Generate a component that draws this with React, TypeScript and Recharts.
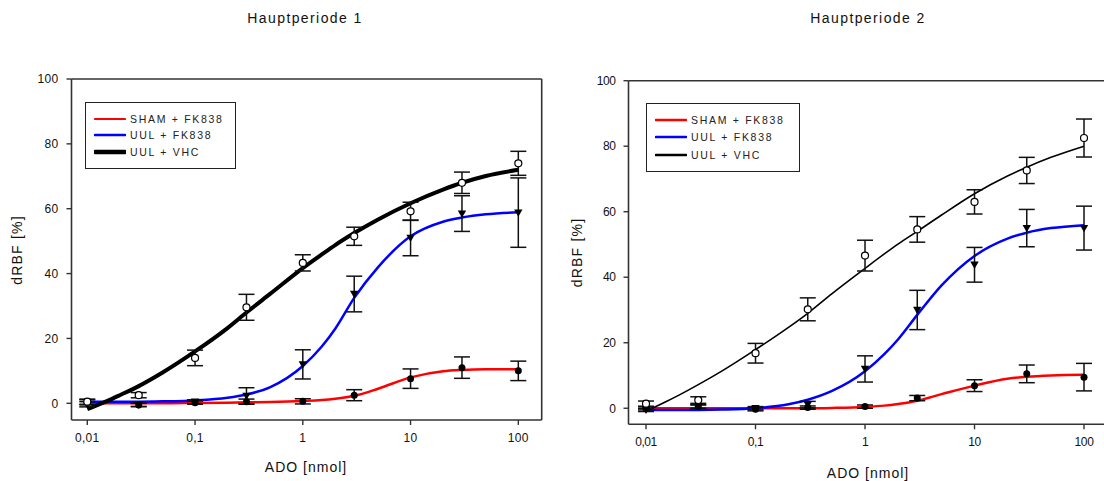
import React from 'react';
import { ComposedChart, Line, Scatter, ErrorBar, XAxis, YAxis, ReferenceLine } from 'recharts';

// ---------- data ----------
const doses = [0.01, 0.03, 0.1, 0.3, 1, 3, 10, 30, 100];
const xTicks = [0.01, 0.1, 1, 10, 100];
const yTicks = [0, 20, 40, 60, 80, 100];
const seriesNames = ['SHAM + FK838', 'UUL + FK838', 'UUL + VHC'];
const titles = ['Hauptperiode 1', 'Hauptperiode 2'];

// Panel 1 measured points
const sham1 = [0.3, -0.5, 0.2, 0.5, 0.6, 2.5, 7.6, 11, 10];
const sham1Err = [0.8, 0.5, 0.5, 0.8, 0.8, 1.7, 3, 3.3, 3];
const fk1 = [-0.3, -0.5, 0.5, 2.3, 12, 33.7, 51, 58.5, 58.8];
const fk1Err = [0.8, 0.5, 0.6, 2.5, 4.5, 5.5, 5.5, 5.5, 10.7];
const vhc1 = [0.5, 2.5, 14, 29.6, 43.3, 51.5, 59.2, 68, 74];
const vhc1Err = [0.8, 0.8, 2.4, 4, 2.5, 2.8, 2.8, 3.3, 3.7];

// Panel 2 measured points
const sham2 = [0, 0.5, -0.3, 0.2, 0.5, 3.1, 6.9, 10.5, 9.5];
const sham2Err = [0.5, 0.5, 0.5, 0.5, 0.5, 0.8, 1.8, 2.7, 4.2];
const fk2 = [-0.5, 0.5, 0, 1.1, 12, 30, 43.8, 55, 55];
const fk2Err = [0.5, 0.6, 0.5, 1, 4, 6, 5.3, 5.7, 6.7];
const vhc2 = [1.4, 2.5, 16.8, 30.2, 46.6, 54.6, 63, 72.6, 82.5];
const vhc2Err = [0.8, 1, 3, 3.5, 4.7, 3.9, 3.7, 4, 5.8];

// fitted curves
const curveX = [0.01, 0.015, 0.02, 0.03, 0.05, 0.1, 0.2, 0.3, 0.5, 1, 1.5, 2, 3, 5, 10, 20, 30, 50, 100];
const fitVhc1 = [-1.8, 0.6, 2.5, 5.3, 9.5, 16, 23.2, 28, 33.8, 41.7, 45.9, 48.8, 52.5, 56.7, 61.7, 65.9, 68, 70.1, 72];
const fitFk1 = [0.5, 0.5, 0.5, 0.5, 0.6, 0.9, 1.7, 2.7, 5, 11.5, 17.5, 23, 32.5, 42, 51.5, 56, 57.3, 58.3, 58.9];
const fitSham1 = [0, 0, 0, 0, 0, 0.1, 0.2, 0.3, 0.4, 0.7, 1.0, 1.4, 2.3, 4.5, 8, 9.9, 10.3, 10.5, 10.5];
const fitVhc2 = [-0.9, 1.9, 4.0, 7.2, 11.5, 17.9, 24.7, 29, 35, 42.7, 47.1, 50.1, 54, 59, 65.5, 70.9, 73.6, 76.6, 80];
const fitFk2 = [-0.5, -0.5, -0.5, -0.5, -0.4, 0, 1.2, 2.6, 5.3, 11.3, 16.5, 21, 28.5, 37.5, 46.5, 51.8, 53.6, 55, 55.9];
const fitSham2 = [0, 0, 0, 0, 0, 0, 0, 0, 0.1, 0.4, 0.8, 1.3, 2.3, 4.3, 6.9, 9, 9.6, 10, 10.2];

// ---------- helpers ----------
const curve = (ys: number[]) => curveX.map((x, i) => ({ x, y: ys[i] }));
const pts = (ys: number[], errs: number[]) => doses.map((x, i) => ({ x, y: ys[i], err: errs[i] }));

const FONT = '"Liberation Sans", Arial, sans-serif';
const AXIS = '#333';

const FilledCircle = (p: any) => <circle cx={p.cx} cy={p.cy} r={3.5} fill="#000" />;
const OpenCircle = (p: any) => <circle cx={p.cx} cy={p.cy} r={3.5} fill="#fff" stroke="#000" strokeWidth={1.2} />;
const TriDown = (p: any) => (
  <polygon points={`${p.cx - 4.2},${p.cy - 3.2} ${p.cx + 4.2},${p.cy - 3.2} ${p.cx},${p.cy + 4.2}`} fill="#000" />
);

type PanelProps = {
  left: number;
  width: number;
  margin: { top: number; left: number; right: number; bottom: number };
  xDomain: [number, number];
  yDomain: [number, number];
  sham: any[]; fk: any[]; vhc: any[];
  fSham: any[]; fFk: any[]; fVhc: any[];
  vhcWidth: number;
  xLabelPos: [number, number];
  yLabelPos: [number, number];
  tickSpacing: number;
};

function Panel(p: PanelProps) {
  const tickStyle = { fontSize: 12, fill: '#111', fontFamily: FONT, letterSpacing: p.tickSpacing };
  return (
    <div style={{ position: 'absolute', left: p.left, top: 0 }}>
      <ComposedChart width={p.width} height={481} margin={p.margin}>
        <XAxis
          dataKey="x"
          type="number"
          scale="log"
          domain={p.xDomain}
          allowDataOverflow
          ticks={xTicks}
          interval={0}
          tickFormatter={(v: number) => String(v).replace('.', ',')}
          tick={tickStyle}
          tickSize={5}
          tickMargin={8}
          height={30}
          axisLine={{ stroke: AXIS, strokeWidth: 1.6 }}
          tickLine={{ stroke: AXIS, strokeWidth: 1.4 }}
          label={{
            content: () => (
              <text x={p.xLabelPos[0]} y={p.xLabelPos[1]} textAnchor="middle" dominantBaseline="central"
                style={{ fontSize: 14, fontFamily: FONT, letterSpacing: 1 }} fill="#111">ADO [nmol]</text>
            ),
          }}
        />
        <YAxis
          dataKey="y"
          type="number"
          domain={p.yDomain}
          allowDataOverflow
          ticks={yTicks}
          interval={0}
          tick={tickStyle}
          tickSize={5}
          tickMargin={8}
          width={50}
          axisLine={{ stroke: AXIS, strokeWidth: 1.6 }}
          tickLine={{ stroke: AXIS, strokeWidth: 1.4 }}
          label={{
            content: () => (
              <text x={p.yLabelPos[0]} y={p.yLabelPos[1]} textAnchor="middle" dominantBaseline="central"
                transform={`rotate(-90 ${p.yLabelPos[0]} ${p.yLabelPos[1]})`}
                style={{ fontSize: 14, fontFamily: FONT, letterSpacing: 1.2 }} fill="#111">dRBF [%]</text>
            ),
          }}
        />
        {/* frame: top and right edges */}
        <ReferenceLine y={p.yDomain[1]} stroke={AXIS} strokeWidth={1.6} />
        <ReferenceLine x={p.xDomain[1]} stroke={AXIS} strokeWidth={1.6} />

        <Line data={p.fSham} dataKey="y" type="monotone" stroke="#ff0000" strokeWidth={2.5} dot={false} isAnimationActive={false} />
        <Line data={p.fFk} dataKey="y" type="monotone" stroke="#0000ff" strokeWidth={2.5} dot={false} isAnimationActive={false} />
        <Line data={p.fVhc} dataKey="y" type="monotone" stroke="#000" strokeWidth={p.vhcWidth} dot={false} isAnimationActive={false} />

        <Scatter data={p.sham} dataKey="y" shape={FilledCircle} isAnimationActive={false}>
          <ErrorBar dataKey="err" direction="y" width={8} stroke="#111" strokeWidth={1.5} />
        </Scatter>
        <Scatter data={p.fk} dataKey="y" shape={TriDown} isAnimationActive={false}>
          <ErrorBar dataKey="err" direction="y" width={8} stroke="#111" strokeWidth={1.5} />
        </Scatter>
        <Scatter data={p.vhc} dataKey="y" shape={OpenCircle} isAnimationActive={false}>
          <ErrorBar dataKey="err" direction="y" width={8} stroke="#111" strokeWidth={1.5} />
        </Scatter>
      </ComposedChart>
    </div>
  );
}

function LegendBox({ left, top, width, height, widths, rowTops }: { left: number; top: number; width: number; height: number; widths: number[]; rowTops: number[] }) {
  const colors = ['#ff0000', '#0000ff', '#000000'];
  return (
    <div style={{ position: 'absolute', left, top, width, height, border: '1.6px solid #222', boxSizing: 'border-box', background: '#fff' }}>
      {seriesNames.map((n, i) => (
        <div key={n} style={{ position: 'absolute', left: 8, top: rowTops[i], display: 'flex', alignItems: 'center', height: 14 }}>
          <svg width={32} height={14} style={{ display: 'block' }}>
            <line x1={1} x2={31} y1={7} y2={7} stroke={colors[i]} strokeWidth={widths[i]} strokeLinecap="round" />
          </svg>
          <span style={{ marginLeft: 4, fontFamily: FONT, fontSize: 10.5, letterSpacing: 1.7, color: '#222', whiteSpace: 'nowrap' }}>{n}</span>
        </div>
      ))}
    </div>
  );
}

export default function App() {
  const l10 = (e: number) => Math.pow(10, e);
  return (
    <div style={{ position: 'absolute', left: 0, top: 0, width: 1104, height: 481, overflow: 'hidden', background: '#fff' }}>
      <div style={{ position: 'absolute', left: 205, top: 10, width: 200, textAlign: 'center', fontFamily: FONT, fontSize: 14, letterSpacing: 1.4, color: '#111' }}>{titles[0]}</div>
      <div style={{ position: 'absolute', left: 768, top: 10, width: 200, textAlign: 'center', fontFamily: FONT, fontSize: 14, letterSpacing: 1.4, color: '#111' }}>{titles[1]}</div>

      <Panel
        left={0}
        width={560}
        margin={{ top: 79, left: 21.5, right: 18.3, bottom: 31 }}
        xDomain={[l10(-2.1466), l10(2.217)]}
        yDomain={[-5.15, 100]}
        sham={pts(sham1, sham1Err)} fk={pts(fk1, fk1Err)} vhc={pts(vhc1, vhc1Err)}
        fSham={curve(fitSham1)} fFk={curve(fitFk1)} fVhc={curve(fitVhc1)}
        vhcWidth={4}
        xLabelPos={[306, 467]}
        yLabelPos={[17, 250]}
        tickSpacing={0.3}
      />
      <Panel
        left={560}
        width={580}
        margin={{ top: 80.7, left: 18.5, right: 25, bottom: 26.7 }}
        xDomain={[l10(-2.16), l10(2.283)]}
        yDomain={[-4.9, 100]}
        sham={pts(sham2, sham2Err)} fk={pts(fk2, fk2Err)} vhc={pts(vhc2, vhc2Err)}
        fSham={curve(fitSham2)} fFk={curve(fitFk2)} fVhc={curve(fitVhc2)}
        vhcWidth={1.6}
        xLabelPos={[308, 472.5]}
        yLabelPos={[17, 252.5]}
        tickSpacing={-0.4}
      />

      <LegendBox left={85} top={102} width={151} height={67} widths={[2.2, 2.6, 4.5]} rowTops={[9, 24.5, 42]} />
      <LegendBox left={646} top={103} width={154} height={69} widths={[2.6, 2.6, 2.6]} rowTops={[9, 26, 44]} />
    </div>
  );
}
